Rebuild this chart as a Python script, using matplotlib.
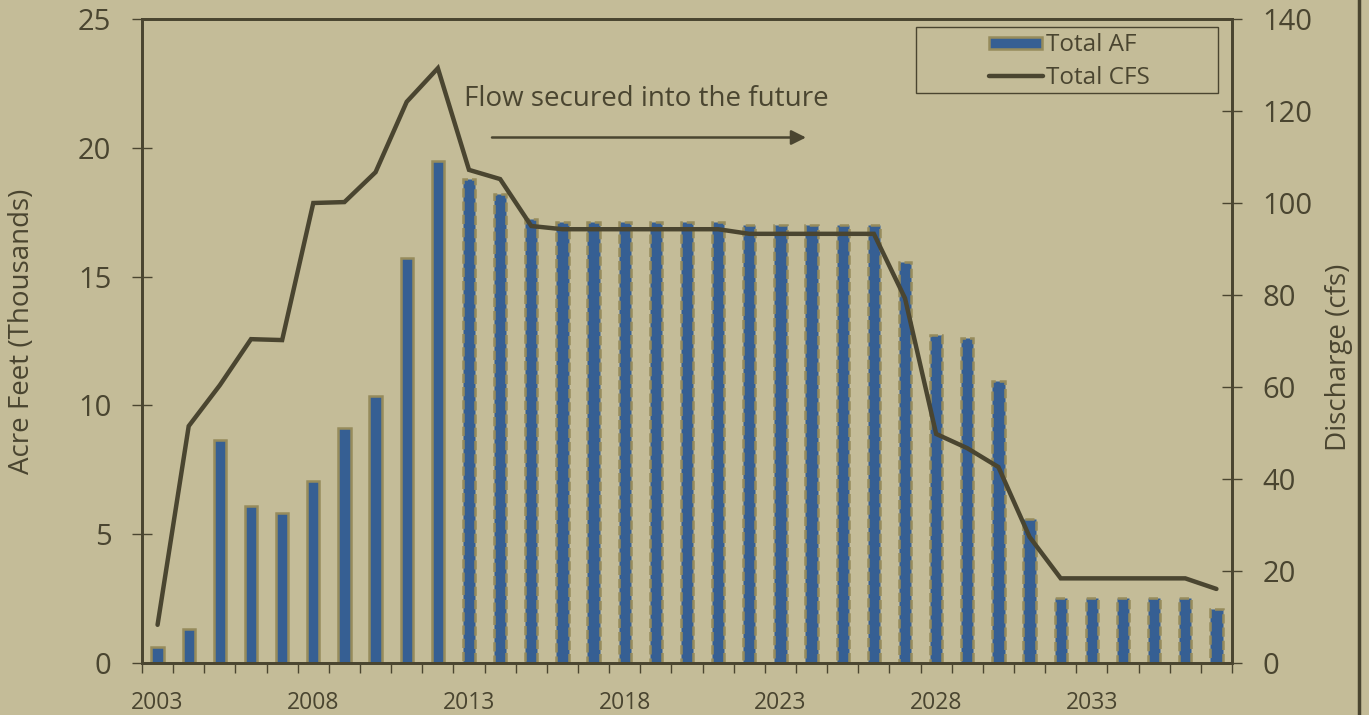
import matplotlib.pyplot as plt
from matplotlib.lines import Line2D
from matplotlib.patches import Rectangle
from matplotlib.ticker import FixedLocator

plt.rcParams['font.family'] = ['Open Sans', 'DejaVu Sans']

years = list(range(2003, 2038))
total_af = [0.63, 1.32, 8.65, 6.1, 5.82, 7.07, 9.12, 10.37, 15.72, 19.49,
            18.79, 18.2, 17.24, 17.12, 17.12, 17.12, 17.12, 17.12, 17.12, 17.0,
            17.0, 17.0, 17.0, 17.0, 15.57, 12.73, 12.62, 10.95, 5.59, 2.54,
            2.54, 2.54, 2.54, 2.54, 2.1]
total_cfs = [8.3, 51.5, 60.4, 70.4, 70.2, 100.0, 100.2, 106.7, 122.0, 129.3,
             107.2, 105.2, 95.0, 94.3, 94.3, 94.3, 94.3, 94.3, 94.3, 93.3,
             93.3, 93.3, 93.3, 93.3, 79.3, 49.8, 46.7, 42.6, 27.4, 18.4,
             18.4, 18.4, 18.4, 18.4, 16.1]
label_years = [2003, 2008, 2013, 2018, 2023, 2028, 2033]

bg = '#c4bc98'
bar_col = '#365f93'
edge_col = '#968b5c'
line_col = '#4a4530'
txt_col = '#4a4530'

fig = plt.figure(figsize=(13.69, 7.15), dpi=100, facecolor=bg)
ax = fig.add_axes([142/1369, 52/715, 1090/1369, 644/715])
ax.set_facecolor(bg)
ax2 = ax.twinx()

x = list(range(len(years)))
for i, v in enumerate(total_af):
    ls = '-' if years[i] < 2013 else '--'
    ax.bar(i, v, width=0.39, color=bar_col, edgecolor=edge_col,
           linewidth=1.8, linestyle=ls, zorder=2)

ax2.plot(x, total_cfs, color=line_col, lw=3.2, solid_capstyle='round',
         solid_joinstyle='miter', zorder=3)

ax.set_xlim(-0.5, len(years) - 0.5)
ax.set_ylim(0, 25)
ax2.set_ylim(0, 140)
ax.set_yticks([0, 5, 10, 15, 20, 25])
ax2.set_yticks([0, 20, 40, 60, 80, 100, 120, 140])

ax.set_xticks([years.index(y) for y in label_years])
ax.set_xticklabels([str(y) for y in label_years])
ax.xaxis.set_minor_locator(FixedLocator([i - 0.5 for i in range(len(years) + 1)]))
ax.tick_params(axis='x', which='major', length=0, pad=20, labelsize=16.5, colors=txt_col)
ax.tick_params(axis='x', which='minor', length=7, width=1, direction='out', color=line_col)
ax.tick_params(axis='y', length=14, width=1, direction='inout', pad=15,
               labelsize=21, colors=txt_col)
ax2.tick_params(axis='y', length=14, width=1, direction='inout', pad=15,
                labelsize=21, colors=txt_col)

for a in (ax, ax2):
    for s in a.spines.values():
        s.set_color(line_col)
        s.set_linewidth(2)

ax.set_ylabel('Acre Feet (Thousands)', fontsize=20, color=txt_col)
ax.yaxis.set_label_coords(-0.097, 0.515)
ax2.set_ylabel('Discharge (cfs)', fontsize=20, color=txt_col)
ax2.yaxis.set_label_coords(1.085, 0.475)

ax.text(0.295, 0.876, 'Flow secured into the future', transform=ax.transAxes,
        fontsize=20, color=txt_col, ha='left', va='center')
ax.annotate('', xy=(664/1090, 0.816), xytext=(350/1090, 0.816),
            xycoords='axes fraction', textcoords='axes fraction',
            arrowprops=dict(arrowstyle='-|>', color=line_col, lw=1.8,
                            mutation_scale=22, shrinkA=0, shrinkB=0))

# legend drawn by hand so the wide frame matches
ax2.add_patch(Rectangle((774/1090, 1 - 74/644), 302/1090, 66/644,
                        transform=ax2.transAxes, facecolor='none',
                        edgecolor=line_col, lw=1, zorder=5, clip_on=False))
ax2.add_patch(Rectangle((847/1090, 1 - 30/644), 53/1090, 12/644,
                        transform=ax2.transAxes, facecolor=bar_col,
                        edgecolor=edge_col, lw=1.8, zorder=5, clip_on=False))
ax2.add_line(Line2D([847/1090, 901/1090], [1 - 57/644, 1 - 57/644],
                    transform=ax2.transAxes, color=line_col, lw=3.2,
                    solid_capstyle='round', zorder=5))
ax2.text(904/1090, 1 - 26/644, 'Total AF', transform=ax2.transAxes,
         fontsize=17.5, color=txt_col, ha='left', va='center', zorder=5)
ax2.text(904/1090, 1 - 59/644, 'Total CFS', transform=ax2.transAxes,
         fontsize=17.5, color=txt_col, ha='left', va='center', zorder=5)

fig.add_artist(Line2D([1359/1369, 1359/1369], [0, 1], transform=fig.transFigure,
                      color=line_col, lw=2.5))

fig.savefig('out.png', dpi=100, facecolor=bg)
